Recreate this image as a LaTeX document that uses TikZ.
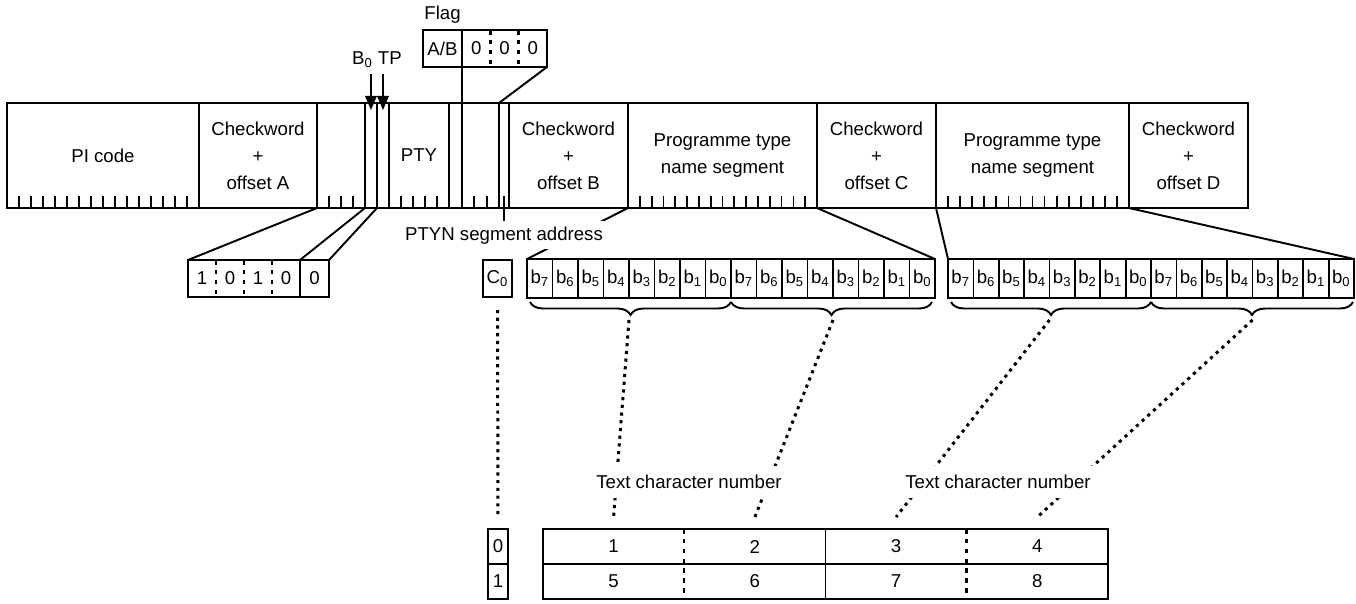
\documentclass[tikz,border=0pt]{standalone}
\usepackage{fontspec}
\setmainfont{Liberation Sans}
\usetikzlibrary{positioning,calc,arrows.meta,decorations.pathreplacing}

\begin{document}
\begin{tikzpicture}[
  x=0.02cm, y=-0.02cm,
  every node/.style={font=\fontsize{10.6}{15.3}\selectfont},
  field/.style={rectangle, draw, line width=1.1pt, align=center, inner sep=0pt, outer sep=0pt, minimum height=2.1cm},
  bitbox/.style={rectangle, draw, line width=1.1pt, inner sep=0pt, outer sep=0pt, minimum height=0.74cm},
  digit/.style={rectangle, inner sep=0pt, outer sep=0pt, minimum width=0.56cm, minimum height=0.74cm},
  cell/.style={rectangle, draw, line width=1pt, inner sep=0pt, outer sep=0pt, minimum height=0.78cm},
  numcell/.style={rectangle, inner sep=0pt, outer sep=0pt, minimum width=2.825cm, minimum height=0.7cm},
  boxline/.style={line width=1.1pt},
  tick/.style={line width=1pt},
  dotsep/.style={line width=1.4pt, dash pattern=on 2.6pt off 3pt},
  dotlink/.style={line width=1.7pt, dash pattern=on 1.8pt off 2.6pt},
  brc/.style={decorate, decoration={brace, mirror, amplitude=0.26cm}, line width=1.1pt},
  arrow/.style={-{Triangle[length=8pt, width=6.5pt]}, line width=1.1pt},
  lbl/.style={fill=white, inner xsep=2pt, inner ysep=3pt},
]
\useasboundingbox (0,0) rectangle (1356,603);

% === GROUP 10A BLOCKS ===
\node[field, minimum width=3.84cm] (pi) at (103,155.5) {PI code};
\node[field, minimum width=2.36cm] (cka) at (258,155.5) {Checkword\\+\\offset A};
\node[field, minimum width=0.96cm] (grp) at (341,155.5) {};
\node[field, minimum width=0.24cm] (bzero) at (371,155.5) {};
\node[field, minimum width=0.24cm] (tp) at (383,155.5) {};
\node[field, minimum width=1.2cm] (pty) at (419,155.5) {PTY};
\node[field, minimum width=0.26cm] (ab) at (455.5,155.5) {};
\node[field, minimum width=0.74cm] (spare) at (480.5,155.5) {};
\node[field, minimum width=0.2cm] (seg) at (504,155.5) {};
\node[field, minimum width=2.38cm] (ckb) at (568.5,155.5) {Checkword\\+\\offset B};
\node[field, minimum width=3.78cm] (ptn1) at (722.5,155.5) {Programme type\\name segment};
\node[field, minimum width=2.38cm] (ckc) at (876.5,155.5) {Checkword\\+\\offset C};
\node[field, minimum width=3.86cm] (ptn2) at (1032.5,155.5) {Programme type\\name segment};
\node[field, minimum width=2.38cm] (ckd) at (1188.5,155.5) {Checkword\\+\\offset D};

% bit ticks
\foreach \l/\r/\n/\m in {7/199/16/15, 317/365/4/3, 389/449/5/4, 462/499/3/2, 628/817/16/15, 936/1129/16/15}
  \foreach \k in {1,...,\m}
    \draw[tick] ({\l+\k*(\r-\l)/\n},196) -- ++(0,12);

% === B0 / TP AND FLAG ===
\node (btp) at (377,60) {B\textsubscript{0} TP};
\draw[arrow, shorten >=-4pt] (bzero.north |- btp.south) -- (bzero.north);
\draw[arrow, shorten >=-4pt] (tp.north |- btp.south) -- (tp.north);

\node[bitbox, minimum width=0.78cm] (flagab) at (442.5,48.5) {A/B};
\node[digit, minimum width=0.567cm] (fz1) at (476.2,48.5) {0};
\node[digit, minimum width=0.567cm] (fz2) at (504.5,48.5) {0};
\node[digit, minimum width=0.567cm] (fz3) at (532.8,48.5) {0};
\draw[boxline] (fz1.north west) rectangle (fz3.south east);
\draw[dotsep] (fz1.north east) -- (fz1.south east);
\draw[dotsep] (fz2.north east) -- (fz2.south east);
\node[above=0pt of flagab] (flaglbl) {Flag};
\draw[boxline] (flagab.south east) -- (ab.south east);
\draw[boxline] (fz3.south east) -- (spare.north east);

% === GROUP TYPE CODE ===
\node[digit] (g1) at (202,278.5) {1};
\node[digit] (g2) at (230,278.5) {0};
\node[digit] (g3) at (258,278.5) {1};
\node[digit] (g4) at (286,278.5) {0};
\draw[boxline] (g1.north west) rectangle (g4.south east);
\foreach \p in {1,2,3}
  \draw[dotsep] (g\p.north east) -- (g\p.south east);
\node[bitbox, minimum width=0.58cm] (bitb0) at (314.5,278.5) {0};
\draw[boxline] (grp.south west) -- (g1.north west);
\draw[boxline] (grp.south east) -- (g4.north east);
\draw[boxline] (bzero.south east) -- (bitb0.north east);

% === SEGMENT ADDRESS AND CHARACTER BITS ===
\node[bitbox, minimum width=0.58cm] (czero) at (497.5,278.5) {C\textsubscript{0}};

\foreach \p in {1,...,16} {
  \pgfmathtruncatemacro\q{7-mod(\p-1,8)}
  \node[cell, minimum width=0.51cm] (ca\p) at ({527+(\p-0.5)*25.5},278.5) {b\textsubscript{\q}};
  \node[cell, minimum width=0.5075cm] (cb\p) at ({948+(\p-0.5)*25.375},278.5) {b\textsubscript{\q}};
}
\draw[boxline] (ptn1.south west) -- (ca1.north west);
\draw[boxline] (ptn1.south east) -- (ca16.north east);
\draw[boxline] (ptn2.south west) -- (cb1.north west);
\draw[boxline] (ptn2.south east) -- (cb16.north east);

\node[lbl, below=0.26cm of seg] (ptynlbl) {PTYN segment address};
\draw[tick] ($(seg.south)+(0,-12)$) -- (ptynlbl.north);

\draw[brc] ($(ca1.south west)+(3,4)$) -- ($(ca8.south east)+(0,4)$);
\draw[brc] ($(ca9.south west)+(0,4)$) -- ($(ca16.south east)+(-3,4)$);
\draw[brc] ($(cb1.south west)+(3,4)$) -- ($(cb8.south east)+(0,4)$);
\draw[brc] ($(cb9.south west)+(0,4)$) -- ($(cb16.south east)+(-1,4)$);
\coordinate (tipa) at ($(ca4.south east)+(0,22)$);
\coordinate (tipb) at ($(ca12.south east)+(0,22)$);
\coordinate (tipc) at ($(cb4.south east)+(0,22)$);
\coordinate (tipd) at ($(cb12.south east)+(0,22)$);

% === TEXT CHARACTER TABLE ===
\node[bitbox, minimum width=0.4cm, minimum height=0.7cm] (rzero) at (498,546.5) {0};
\node[bitbox, minimum width=0.4cm, minimum height=0.7cm] (rone) at (498,581.5) {1};
\foreach \p/\x in {1/613.6, 2/754.9, 3/896.1, 4/1037.4} {
  \node[numcell] (tc\p) at (\x,546.5) {\p};
  \pgfmathtruncatemacro\q{\p+4}
  \node[numcell] (tc\q) at (\x,581.5) {\q};
}
\draw[boxline] (tc1.north west) rectangle (tc8.south east);
\draw[boxline] (tc1.south west) -- (tc4.south east);
\draw[boxline] (tc2.north east) -- (tc6.south east);
\draw[dotsep] (tc1.north east) -- (tc5.south east);
\draw[dotsep] (tc3.north east) -- (tc7.south east);

\draw[dotlink, shorten <=0.26cm, shorten >=0.24cm] (czero.south) -- (rzero.north);
\draw[dotlink] (tipa) -- ($(tc1.north)+(0,-12)$);
\draw[dotlink] (tipb) -- ($(tc2.north)+(0,-12)$);
\draw[dotlink] (tipc) -- ($(tc3.north)+(0,-12)$);
\draw[dotlink] (tipd) -- ($(tc4.north)+(0,-12)$);
\node[lbl, inner ysep=0.18cm] (tcnum1) at (689,482) {Text character number};
\node[lbl, inner ysep=0.18cm] (tcnum2) at (998,482) {Text character number};
\end{tikzpicture}
\end{document}
